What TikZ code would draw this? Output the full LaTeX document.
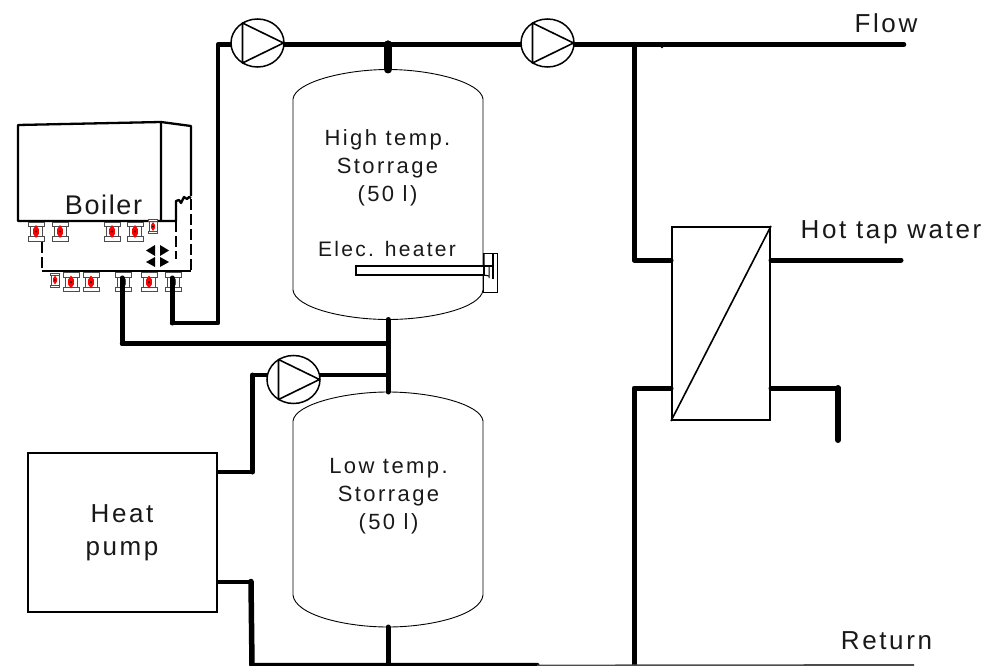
\documentclass[tikz,border=0pt]{standalone}
\usepackage{fontspec}
\usetikzlibrary{shapes.geometric}
\setmainfont{Liberation Sans}
\newfontfamily\sptxt[LetterSpace=11]{Liberation Sans}
\newfontfamily\spwide[LetterSpace=10]{Liberation Sans}
\newfontfamily\spboil[LetterSpace=6]{Liberation Sans}
\tikzset{
 pipe/.style={line width=5pt,line join=round,line cap=round},
 tank/.style={line width=0.9pt},
 txt/.style={font=\sptxt\fontsize{22}{28}\selectfont,align=center,inner sep=0pt,text=black!90},
 bigtxt/.style={font=\spwide\fontsize{26}{33}\selectfont,align=center,inner sep=0pt,text=black!90},
 pumpc/.style={draw,ellipse,line width=1.5pt,minimum width=53pt,minimum height=48pt,inner sep=0pt,fill=white},
 boxl/.style={line width=2.3pt},
 dashl/.style={line width=1.8pt,dash pattern=on 11pt off 4pt},
 hx/.style={draw,line width=2pt,fill=white,inner sep=0pt},
}
\tikzset{valve/.pic={
 \draw[line width=0.9pt,fill=white,draw=black!70] (-8,-9.5) rectangle (8,-5);
 \draw[line width=0.9pt,fill=white,draw=black!70] (-8,5) rectangle (8,9.5);
 \draw[line width=0.9pt,draw=black!70] (-6,-5)--(-6,5) (6,-5)--(6,5);
 \fill[red] (0,-6.5)--(2.8,-2.5)--(2.8,2.5)--(0,6.5)--(-2.8,2.5)--(-2.8,-2.5)--cycle;
 \fill[black] (0,0) circle (1.1pt);
}}
\tikzset{smallvalve/.pic={
 \draw[line width=0.9pt,fill=white,draw=black!70] (-4.5,-7) rectangle (4.5,-5);
 \draw[line width=0.9pt,fill=white,draw=black!70] (-4.5,5) rectangle (4.5,7);
 \draw[line width=0.9pt,draw=black!70] (-4,-5)--(-4,5) (4,-5)--(4,5);
 \fill[red] (0,-4.5)--(2,-1.5)--(2,1.5)--(0,4.5)--(-2,1.5)--(-2,-1.5)--cycle;
 \fill[black] (0,0) circle (0.9pt);
}}
\newcommand{\pumpat}[3]{%
 \node[pumpc] (#1) at (#2,#3) {};
 \draw[line width=1.6pt,line join=round] (#2-15,#3-20)--(#2+26,#3)--(#2-15,#3+20)--cycle;
}
\begin{document}
\begin{tikzpicture}[x=1pt,y=-1pt]
\useasboundingbox (0,0) rectangle (986,666);
\fill[white] (0,0) rectangle (986,666);
% coordinates
\coordinate (htop) at (388,69.5);
\coordinate (hbot) at (388,319.5);
\coordinate (ltop) at (388,392);
\coordinate (lbot) at (388,627);
\coordinate (flowend) at (904,44.5);
\coordinate (hotend) at (901,260);
\coordinate (drain) at (838,440);
\coordinate (retbase) at (252,665.5);
\coordinate (retmid) at (537,665.5);
\coordinate (retend) at (914,665);
\coordinate (b1) at (122,278);
\coordinate (b2) at (172,278);
\coordinate (j1) at (218,44.5);
\coordinate (j2) at (218,323);
\coordinate (j3) at (172,323);
\coordinate (k2) at (122,343.5);
\coordinate (k3) at (388,343.5);
\coordinate (tee1) at (388,44.5);
\coordinate (tee2) at (634,44.5);
\coordinate (tee3) at (388,375);
\coordinate (tee4) at (388,665);
\coordinate (tee5) at (634,665);
% devices
\node[draw,line width=2pt,fill=white,minimum width=189pt,minimum height=159pt,inner sep=0pt] (hp) at (122.5,532.5) {};
\node[hx,minimum width=98pt,minimum height=193pt] (ex) at (721,323.5) {};
% pipes
\draw[pipe,line width=4.5pt] (j3)--(j2)--(j1)--(flowend);
\draw[line width=8pt,line cap=round] (tee1)--(htop);
\draw[pipe,line width=4.5pt] (k2)--(k3);
\draw[pipe] (tee2)--(634,260)--(ex.west |- 0,260);
\draw[pipe] (tee5)--(634,388)--(ex.west |- 0,388);
\draw[pipe] (ex.east |- 0,260)--(hotend);
\draw[pipe] (ex.east |- 0,388)--(838,388)--(838,400);
\draw[line width=6pt,line cap=round,line join=round] (838,388)--(drain);
\draw[line width=4pt] (tee3)--(252.5,375);
\draw[pipe] (252.5,375)--(252.5,472);
\draw[line width=4pt] (252.5,472)--(hp.east |- 0,472);
\draw[line width=4pt] (hp.east |- 0,581.5)--(251,581.5);
\draw[pipe,line width=5.5pt] (251,581.5)--(retbase)--(retmid);
\draw[line width=1.8pt,black!70] (retmid)--(retend);
\draw[pipe] (lbot)--(tee4);
\fill (662,47) circle (1.4pt);
% tanks
\draw[tank,fill=white] (293,99) .. controls (295,82) and (345,69.5) .. (htop) .. controls (431,69.5) and (481,82) .. (483,99) -- (483,290) .. controls (481,308) and (431,319.5) .. (hbot) .. controls (345,319.5) and (295,308) .. (293,290) -- cycle;
\draw[tank,fill=white] (293,421) .. controls (295,404) and (345,392) .. (ltop) .. controls (431,392) and (481,404) .. (483,421) -- (483,595) .. controls (481,615) and (431,627) .. (lbot) .. controls (345,627) and (295,615) .. (293,595) -- cycle;
\draw[pipe] (hbot)--(tee3)--(ltop);
\draw[pipe] (lbot)--(tee4);
\draw[line width=8pt,line cap=round] (tee1)--(htop);
% heater
\draw[line width=1pt] (483,253) rectangle (497,292);
\draw[line width=1.2pt,fill=white] (356,266) rectangle (484,275);
\draw[line width=1.5pt] (470,266)--(493,266) (493,253)--(493,279);
\draw[line width=1pt] (484,253)--(484,266) (484,275)--(489,276) (489,266)--(489,278);
% text
\node[txt] (t1) at (387.5,168) {High temp.\\Storrage\\(50 l)};
\node[txt,font=\sptxt\fontsize{21}{28}\selectfont] (t2) at (387,249) {Elec. heater};
\node[txt] (t3) at (388.5,496) {Low temp.\\Storrage\\(50 l)};
\node[bigtxt,font=\spboil\fontsize{27}{33}\selectfont] (t4) at (103.5,205) {Boiler};
\node[bigtxt] (t5) at (886,23) {Flow};
\node[bigtxt] (t6) at (891,232) {Hot tap water};
\node[bigtxt] (t7) at (886.5,641) {Return};
% pumps
\pumpat{p1}{257.5}{43}
\pumpat{p2}{547.5}{43}
\pumpat{p3}{293.5}{379.5}
\node[bigtxt] (hpt) at (122,533) {Heat\\pump};
% exchanger
\draw[line width=1.6pt] (ex.south west)--(ex.north east);
% boiler
\draw[boxl,line join=round] (18,221)--(18,125)--(161,122)--(161,221)--cycle;
\draw[boxl,line join=round] (161,122)--(191,126)--(191,196);
\draw[boxl,line join=round] (161,221)--(176,221)--(176,201)--(179,200)--(181,203)--(184,197)--(187,199)--(189,197)--(191,198);
\draw[dashl] (176,221)--(176,259);
\draw[dashl] (191,199)--(191,271);
\draw[dashl] (42,242)--(42,271);
\draw[boxl] (42,271)--(191,271);
\fill (146,250.5) --(155,245)--(155,256)--cycle;
\fill (169,250.5) --(160,245)--(160,256)--cycle;
\fill (146,262) --(155,257)--(155,267)--cycle;
\fill (169,262) --(160,257)--(160,267)--cycle;
% valves
\foreach \x in {36,60,112,135}{\pic at (\x,231.5) {valve};}
\pic at (153,226.5) {smallvalve};
\pic at (55,280) {smallvalve};
\foreach \x in {71,91,123,149,173}{\pic at (\x,282) {valve};}
\draw[pipe] (b1)--(k2);
\draw[pipe] (b2)--(j3);
\end{tikzpicture}
\end{document}
